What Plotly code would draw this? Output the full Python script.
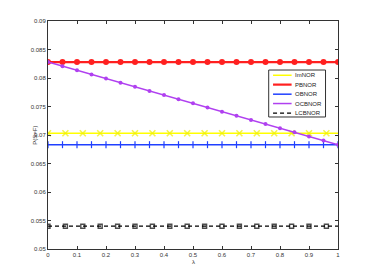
import plotly.graph_objects as go

lam20 = [round(i * 0.05, 2) for i in range(21)]
lam6 = [round(i * 0.06, 2) for i in range(17)] + [1.0]

imnor = [0.0703] * 18
pbnor = [0.0828] * 21
obnor = [0.0683] * 21
ocbnor = [0.0828, 0.08208, 0.08135, 0.08063, 0.0799, 0.07918, 0.07845, 0.07773,
          0.077, 0.07628, 0.07555, 0.07483, 0.0741, 0.07338, 0.07265, 0.07193,
          0.0712, 0.07048, 0.06975, 0.06903, 0.0683]
lcbnor = [0.0540] * 18

names = ["ImNOR", "PBNOR", "OBNOR", "OCBNOR", "LCBNOR"]

xticks = [0, 0.1, 0.2, 0.3, 0.4, 0.5, 0.6, 0.7, 0.8, 0.9, 1]
yticks = [0.05, 0.055, 0.06, 0.065, 0.07, 0.075, 0.08, 0.085, 0.09]
ytext = ["0.05", "0.055", "0.06", "0.065", "0.07", "0.075", "0.08", "0.085", "0.09"]

def sizes(n, s):
    return [s] * (n - 1) + [0]

styles = [
    dict(line=dict(color="#ffff00", width=1.5),
         marker=dict(symbol="x-thin", size=6, line=dict(color="#f0f000", width=1.6), color="#ffff00")),
    dict(line=dict(color="#ff2020", width=2.2),
         marker=dict(symbol="circle", size=6, color="#ff2020")),
    dict(line=dict(color="#2040ff", width=1.5),
         marker=dict(symbol="line-ns", size=5, line=dict(color="#2040ff", width=1.2))),
    dict(line=dict(color="#b040f0", width=1.5),
         marker=dict(symbol="circle", size=4, color="#b040f0")),
    dict(line=dict(color="#000000", width=1.3, dash="4px,3px"),
         marker=dict(symbol="square-open", size=4, line=dict(color="#000000", width=1.4))),
]

series = [(lam6, imnor), (lam20, pbnor), (lam20, obnor), (lam20, ocbnor), (lam6, lcbnor)]

fig = go.Figure()
for (xs, ys), st, nm in zip(series, styles, names):
    mk = dict(st["marker"])
    if xs is lam6:
        mk["size"] = sizes(len(xs), mk["size"])
    fig.add_trace(go.Scatter(x=xs, y=ys, name=nm, mode="lines+markers",
                             line=st["line"], marker=mk, showlegend=False))

# custom compact legend (matches the reference's tight legend box)
lx0, lx1, ly0, ly1 = 0.761, 0.957, 0.579, 0.785
fig.add_shape(type="rect", xref="paper", yref="paper", x0=lx0, x1=lx1, y0=ly0, y1=ly1,
              line=dict(color="#333333", width=1), fillcolor="white", layer="above")
row_y = [0.762, 0.721, 0.679, 0.638, 0.596]
sx0, sx1 = 0.776, 0.840
for yy, st, nm in zip(row_y, styles, names):
    fig.add_shape(type="line", xref="paper", yref="paper", x0=sx0, x1=sx1, y0=yy, y1=yy,
                  line=st["line"], layer="above")
    fig.add_trace(go.Scatter(x=[(sx0 + sx1) / 2], y=[yy], xaxis="x2", yaxis="y2",
                             mode="markers", marker=st["marker"], showlegend=False,
                             hoverinfo="skip"))
    fig.add_annotation(x=0.846, y=yy, xref="paper", yref="paper", text=nm,
                       showarrow=False, xanchor="left", yanchor="middle",
                       font=dict(size=6, family="Liberation Sans", color="#222222"))

# axis titles
fig.add_annotation(x=-0.046, y=0.5, xref="paper", yref="paper", text="P(S=F)",
                   textangle=-90, showarrow=False, xanchor="center", yanchor="middle",
                   font=dict(size=6, family="Liberation Sans", color="#333333"))
fig.add_annotation(x=0.5, y=0, yshift=-13, xref="paper", yref="paper", text="λ",
                   showarrow=False, xanchor="center", yanchor="middle",
                   font=dict(size=6, family="Liberation Sans", color="#333333"))

axis_common = dict(showgrid=False, zeroline=False, showline=True, linecolor="#333333",
                   linewidth=1, mirror="ticks", ticks="inside", ticklen=3, automargin=False,
                   tickcolor="#333333", tickfont=dict(size=6, color="#333333",
                                                       family="Liberation Sans"))

fig.update_layout(
    width=366, height=272,
    margin=dict(l=40, r=36, t=13, b=31),
    paper_bgcolor="white", plot_bgcolor="white",
    showlegend=False,
    xaxis=dict(range=[0, 1], tickvals=xticks, ticktext=[str(v) for v in xticks],
               **axis_common),
    yaxis=dict(range=[0.05, 0.09], tickvals=yticks, ticktext=ytext,
               **axis_common),
    xaxis2=dict(overlaying="x", range=[0, 1], visible=False),
    yaxis2=dict(overlaying="y", range=[0, 1], visible=False),
)

fig.write_html("out.html")
